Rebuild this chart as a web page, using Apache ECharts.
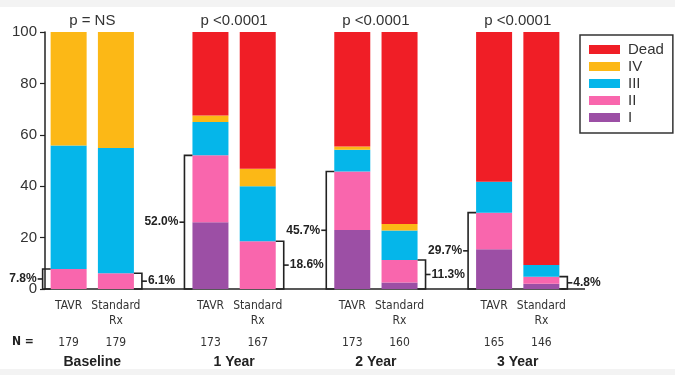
<!DOCTYPE html>
<html>
<head>
<meta charset="utf-8">
<script src="https://cdn.jsdelivr.net/npm/echarts@6/dist/echarts.min.js"></script>
<style>
  html, body { margin: 0; padding: 0; background: #fff; }
  #chart { width: 675px; height: 375px; }
</style>
</head>
<body>
<div id="chart"></div>
<script>
// categories: 4 time points x (TAVR, Standard Rx), blank slots between groups
const categories = ['TAVR', 'Standard\nRx', '', 'TAVR', 'Standard\nRx', '', 'TAVR', 'Standard\nRx', '', 'TAVR', 'Standard\nRx'];
const nValues = ['179', '179', '', '173', '167', '', '173', '160', '', '165', '146'];
const groupNames = ['Baseline', '1 Year', '2 Year', '3 Year'];
const pValues = ['p = NS', 'p <0.0001', 'p <0.0001', 'p <0.0001'];

// NYHA class shares (%), per category slot (null = gap)
const classI    = [0,    0,    null, 26,   0,    null, 23,   2.5,  null, 15.5, 2  ];
const classII   = [7.8,  6.1,  null, 26,   18.6, null, 22.7, 8.8,  null, 14.2, 2.8];
const classIII  = [48,   48.8, null, 13,   21.4, null, 8.5,  11.5, null, 12,   4.5];
const classIV   = [44.2, 45.1, null, 2.5,  6.8,  null, 1.2,  2.5,  null, 0,    0  ];
const dead      = [0,    0,    null, 32.5, 53.2, null, 44.6, 74.7, null, 58.3, 90.7];

// bracket annotations: slot index, value (class I + II), side
const bracketSlots  = [0, 1, 3, 4, 6, 7, 9, 10];
const bracketValues = [7.8, 6.1, 52.0, 18.6, 45.7, 11.3, 29.7, 4.8];
const bracketSides  = ['left', 'right', 'left', 'right', 'left', 'right', 'left', 'right'];

const colors = {
  dead: '#f01e26', iv: '#fcb816', iii: '#05b6ea', ii: '#f966ad', i: '#9c4fa5'
};
const ink = '#222';
const narrow = '"DejaVu Sans Condensed", "Liberation Sans Narrow", "Liberation Sans"';

const chart = echarts.init(document.getElementById('chart'));

function barSeries(name, data, color) {
  return {
    name: name, type: 'bar', stack: 'total', data: data, barWidth: 36,
    itemStyle: { color: color }, emphasis: { disabled: true }
  };
}

const bracketData = bracketSlots.map((s, i) => [s, bracketValues[i], bracketSides[i] === 'left' ? -1 : 1]);

const option = {
  animation: false,
  backgroundColor: '#fff',
  grid: { left: 45, top: 32, width: 520, bottom: 86 },
  legend: {
    orient: 'vertical', left: 580, top: 35,
    data: ['Dead', 'IV', 'III', 'II', 'I'],
    itemWidth: 31, itemHeight: 9, itemGap: 2,
    padding: [7, 9, 8, 9],
    borderColor: '#333', borderWidth: 1.5,
    icon: 'rect',
    textStyle: { fontFamily: 'Liberation Sans', fontSize: 15, color: '#333', padding: [0, 0, 0, 3] }
  },
  xAxis: {
    type: 'category', data: categories,
    axisLine: { lineStyle: { color: ink, width: 1.5 } },
    axisTick: { show: false },
    axisLabel: {
      interval: 0, margin: 9,
      formatter: (v, i) => {
        const parts = v.split('\n');
        const l1 = parts[0] || '';
        const l2 = parts[1] || ' ';
        return '{a|' + l1 + '}\n{a|' + l2 + '}\n{n|' + nValues[i] + '}';
      },
      rich: {
        a: { fontFamily: narrow, fontSize: 12, color: '#333', lineHeight: 15 },
        n: { fontFamily: narrow, fontSize: 12, color: '#333', lineHeight: 21, verticalAlign: 'bottom' }
      }
    }
  },
  yAxis: {
    type: 'value', min: 0, max: 100, interval: 20,
    axisLine: { show: true, lineStyle: { color: ink, width: 1.5 } },
    axisTick: { show: true, length: 5, lineStyle: { color: ink, width: 1.2 } },
    splitLine: { show: false },
    axisLabel: { fontFamily: 'Liberation Sans', fontSize: 15, color: '#333', margin: 8 }
  },
  series: [
    barSeries('I', classI, colors.i),
    barSeries('II', classII, colors.ii),
    barSeries('III', classIII, colors.iii),
    barSeries('IV', classIV, colors.iv),
    barSeries('Dead', dead, colors.dead),
    {
      type: 'custom', name: 'brackets', z: 5, silent: true,
      data: bracketData,
      renderItem: (params, api) => {
        const slot = api.value(0), val = api.value(1), dir = api.value(2);
        const top = api.coord([slot, val]);
        const bot = api.coord([slot, 0]);
        const x = top[0] + dir * 26;
        const edge = top[0] + dir * 18;
        const yMid = (top[1] + bot[1]) / 2;
        const style = { stroke: ink, lineWidth: 1.6, fill: null };
        return {
          type: 'group',
          children: [
            { type: 'polyline', shape: { points: [[edge, top[1]], [x, top[1]], [x, bot[1]], [edge, bot[1]]] }, style: style },
            { type: 'line', shape: { x1: x, y1: yMid, x2: x + dir * 5, y2: yMid }, style: style },
            {
              type: 'text',
              style: {
                text: val.toFixed(1) + '%',
                x: x + dir * 6, y: yMid,
                align: dir < 0 ? 'right' : 'left', verticalAlign: 'middle',
                font: 'bold 12px "Liberation Sans"', fill: ink
              }
            }
          ]
        };
      }
    }
  ]
};

chart.setOption(option);

// group titles, p-values and the "N =" row, placed from the category scale
const px = s => chart.convertToPixel({ xAxisIndex: 0 }, s);
const groupCenters = [0, 3, 6, 9].map(s => (px(s) + px(s + 1)) / 2);
const axisY = chart.convertToPixel({ yAxisIndex: 0 }, 0);
const graphics = [
  { type: 'rect', shape: { x: 0, y: 0, width: 675, height: 7 }, style: { fill: '#f3f3f3' }, z: -1 },
  { type: 'rect', shape: { x: 0, y: 369, width: 675, height: 6 }, style: { fill: '#f3f3f3' }, z: -1 },
  // x axis line runs on past the last bar pair
  { type: 'line', shape: { x1: px(10) + 20, y1: axisY, x2: 585, y2: axisY }, style: { stroke: ink, lineWidth: 1.5 } }
];
groupCenters.forEach((cx, i) => {
  graphics.push({
    type: 'text', x: cx, y: 13,
    style: { text: pValues[i], font: '15px "Liberation Sans"', fill: '#333', align: 'center' }
  });
  graphics.push({
    type: 'text', x: cx, y: 355,
    style: { text: groupNames[i], font: 'bold 14px "Liberation Sans"', fill: ink, align: 'center' }
  });
});
graphics.push({
  type: 'text', x: 12, y: 336,
  style: { text: 'N =', font: 'bold 12px ' + narrow, fill: ink }
});
chart.setOption({ graphic: graphics });
</script>
</body>
</html>
